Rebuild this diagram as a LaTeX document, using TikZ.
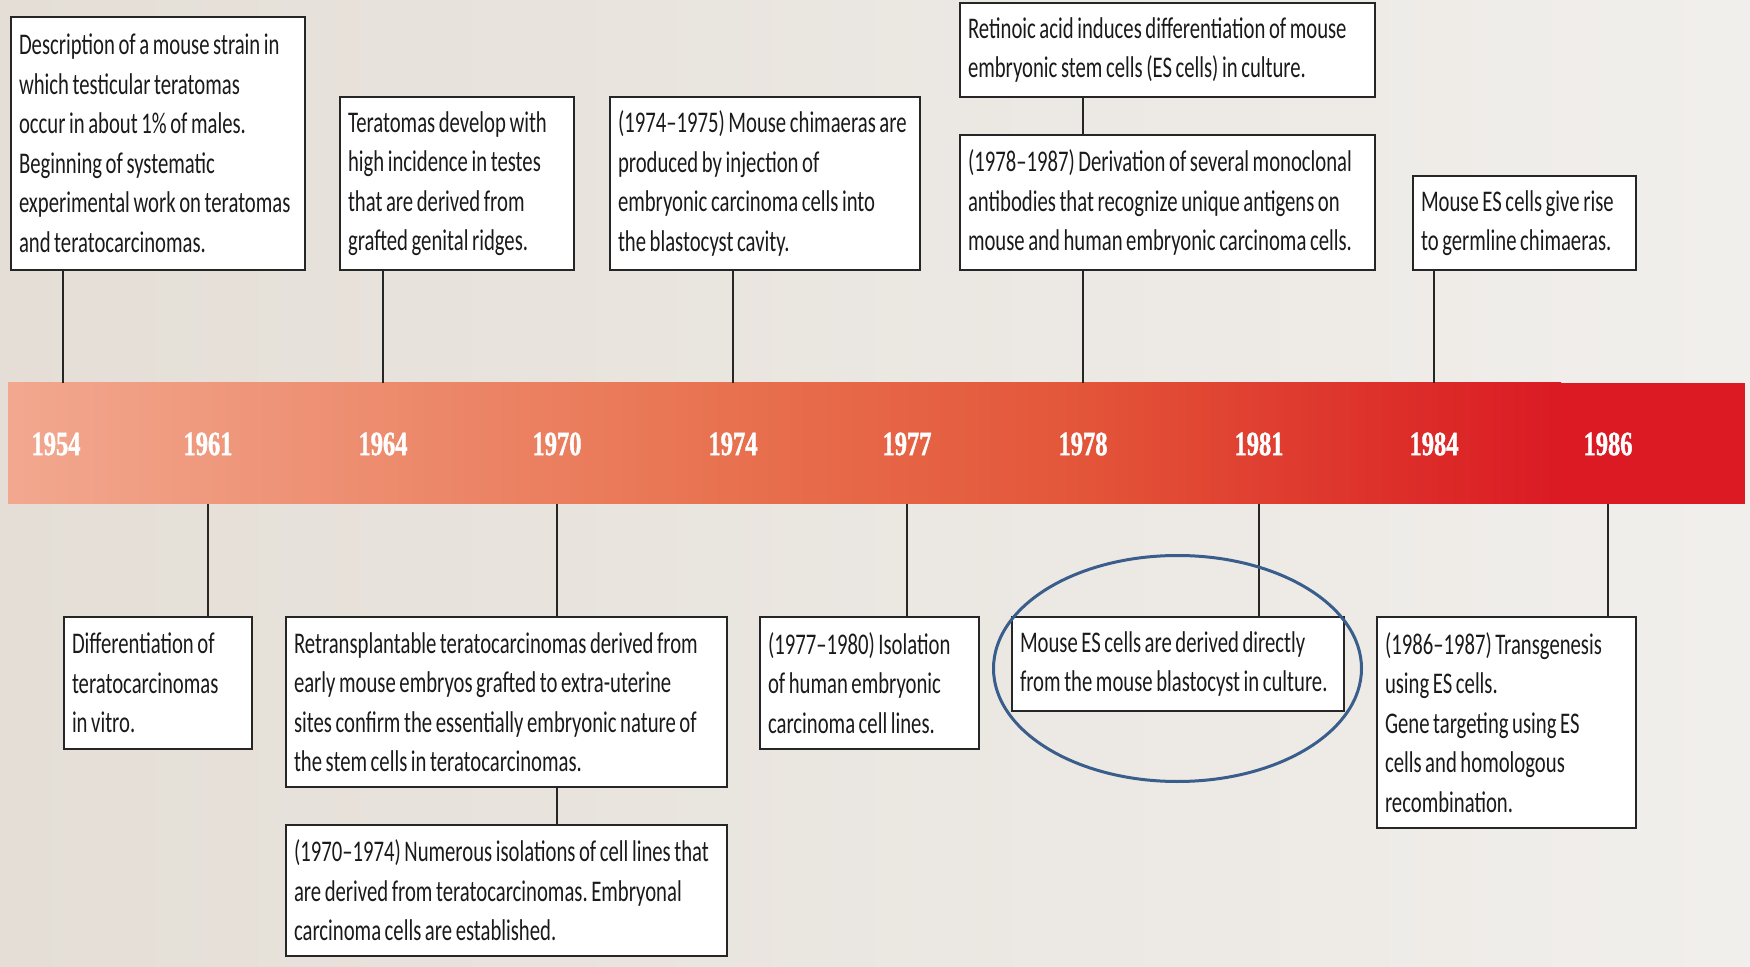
\documentclass[tikz,border=0pt]{standalone}
\usepackage{fontspec}
\newfontfamily\boxfont[FakeStretch=0.69]{Carlito}
\newfontfamily\yearfont[FakeStretch=0.72,FakeBold=1.2]{Liberation Serif}
\usetikzlibrary{shapes.geometric}
\definecolor{bgL}{HTML}{E4DED6}
\definecolor{bgR}{HTML}{F1EFEC}
\definecolor{g0}{HTML}{F2A88F}
\definecolor{g1}{HTML}{E8714F}
\definecolor{g2}{HTML}{E35539}
\definecolor{g3}{HTML}{DC2A28}
\definecolor{g4}{HTML}{DB1A24}
\definecolor{boxline}{HTML}{262626}
\definecolor{txt}{HTML}{1A1A1A}
\definecolor{ringc}{HTML}{3A5E8C}
\tikzset{
  evt/.style={draw=boxline, line width=1.2pt, fill=white, text=txt,
    font={\boxfont\fontsize{15pt}{19.75pt}\selectfont}, align=flush left,
    inner xsep=4pt, inner ysep=0pt, text width=#1,
    execute at begin node={\spaceskip=1.8pt plus 0.3pt minus 0.2pt\xspaceskip=1.8pt plus 0.3pt\rightskip=0pt plus 1fil minus 40pt\hyphenpenalty=10000\relax}},
  yr/.style={text=white, inner sep=0pt,
    font={\yearfont\bfseries\fontsize{17pt}{17pt}\selectfont}},
  conn/.style={draw=black!85, line width=0.75pt}
}
\begin{document}
\begin{tikzpicture}[x=0.5pt,y=-0.5pt]
\useasboundingbox (0,0) rectangle (1750,967);
\fill[left color=bgL, right color=bgR] (0,0) rectangle (1750,967);
% timeline bar
\fill[left color=g0, right color=g1] (8,383) rectangle (734,504);
\fill[left color=g1, right color=g2] (733,383) rectangle (1084,504);
\fill[left color=g2, right color=g3] (1083,383) rectangle (1435,504);
\fill[left color=g3, right color=g4] (1434,383) rectangle (1561,504);
\fill[g4] (1560,383) rectangle (1745,504);
\node[minimum width=868.5pt, minimum height=60.5pt, inner sep=0pt] (bar) at (876.5,443.5) {};
% years
\node[yr] (y1954) at (56,444) {1954};
\node[yr] (y1961) at (208,444) {1961};
\node[yr] (y1964) at (383,444) {1964};
\node[yr] (y1970) at (557,444) {1970};
\node[yr] (y1974) at (733,444) {1974};
\node[yr] (y1977) at (907,444) {1977};
\node[yr] (y1978) at (1083,444) {1978};
\node[yr] (y1981) at (1259,444) {1981};
\node[yr] (y1984) at (1434,444) {1984};
\node[yr] (y1986) at (1608,444) {1986};
\coordinate (k1) at (63,444);
% upper boxes
\node[evt=139pt, minimum height=126.5pt] (b1) at (158,143.5) {Description of a mouse strain in\\which testicular teratomas\\occur in about 1\% of males.\\Beginning of systematic\\experimental work on teratomas\\and teratocarcinomas.};
\node[evt=109pt, minimum height=86.5pt] (b2) at (457,183.5) {Teratomas develop with\\high incidence in testes\\that are derived from\\grafted genital ridges.};
\node[evt=147pt, minimum height=86.5pt] (b3) at (765,183.5) {(1974–1975) Mouse chimaeras are\\produced by injection of\\embryonic carcinoma cells into\\the blastocyst cavity.};
\node[evt=199.5pt, minimum height=47pt] (b4) at (1167.5,50) {Retinoic acid induces differentiation of mouse\\embryonic stem cells (ES cells) in culture.};
\node[evt=199.5pt, minimum height=67.5pt] (b5) at (1167.5,202.5) {(1978–1987) Derivation of several monoclonal\\antibodies that recognize unique antigens on\\mouse and human embryonic carcinoma cells.};
\node[evt=103.5pt, minimum height=47pt] (b6) at (1524.5,223) {Mouse ES cells give rise\\to germline chimaeras.};
% lower boxes
\node[evt=86pt, minimum height=66pt] (l1) at (158,683) {Differentiation of\\teratocarcinomas\\in vitro.};
\node[evt=212.5pt, minimum height=85pt] (l2) at (506.5,702) {Retransplantable teratocarcinomas derived from\\early mouse embryos grafted to extra-uterine\\sites confirm the essentially embryonic nature of\\the stem cells in teratocarcinomas.};
\node[evt=212.5pt, minimum height=65.5pt] (l3) at (506.5,890.5) {(1970–1974) Numerous isolations of cell lines that\\are derived from teratocarcinomas. Embryonal\\carcinoma cells are established.};
\node[evt=101.5pt, minimum height=66pt] (l4) at (869.5,683) {(1977–1980) Isolation\\of human embryonic\\carcinoma cell lines.};
\node[evt=158pt, minimum height=47pt] (l5) at (1178,664) {Mouse ES cells are derived directly\\from the mouse blastocyst in culture.};
\node[evt=121.5pt, minimum height=105.5pt] (l6) at (1506.5,722.5) {(1986–1987) Transgenesis\\using ES cells.\\Gene targeting using ES\\cells and homologous\\recombination.};
% connectors
\draw[conn] (b1.south -| k1) -- (bar.north -| k1);
\draw[conn] (b2.south -| y1964) -- (bar.north -| y1964);
\draw[conn] (b3.south -| y1974) -- (bar.north -| y1974);
\draw[conn] (b4.south -| y1978) -- (b5.north -| y1978);
\draw[conn] (b5.south -| y1978) -- (bar.north -| y1978);
\draw[conn] (b6.south -| y1984) -- (bar.north -| y1984);
\draw[conn] (bar.south -| y1961) -- (l1.north -| y1961);
\draw[conn] (bar.south -| y1970) -- (l2.north -| y1970);
\draw[conn] (l2.south -| y1970) -- (l3.north -| y1970);
\draw[conn] (bar.south -| y1977) -- (l4.north -| y1977);
\draw[conn] (bar.south -| y1981) -- (l5.north -| y1981);
\draw[conn] (bar.south -| y1986) -- (l6.north -| y1986);
% highlight ring
\node[draw=ringc, line width=1.5pt, ellipse, minimum width=184pt, minimum height=113pt, inner sep=0pt] (ring) at (1177.5,668.5) {};
\end{tikzpicture}
\end{document}
